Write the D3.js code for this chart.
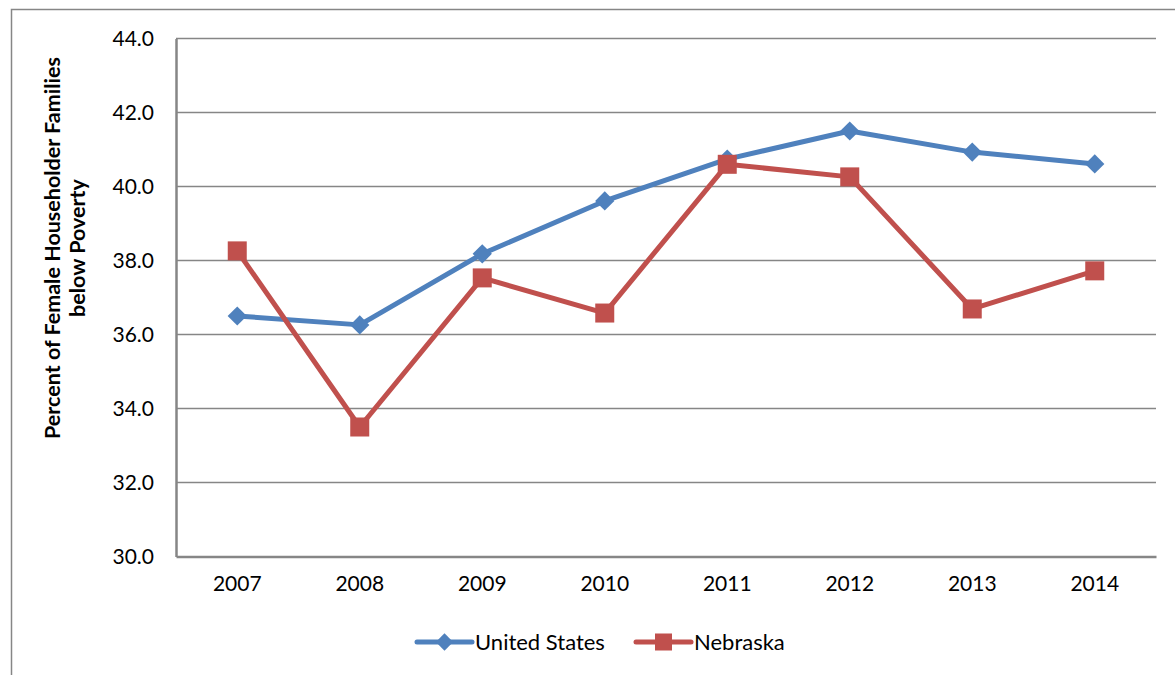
<!DOCTYPE html>
<html><head><meta charset="utf-8">
<script src="https://cdn.jsdelivr.net/npm/d3@7"></script>
<style>body{margin:0;background:#fff}svg{display:block}text{font-family:Lato,"Open Sans",sans-serif;fill:#000}</style>
</head><body><svg id="c" width="1175" height="675"></svg>
<script>
const years = ["2007","2008","2009","2010","2011","2012","2013","2014"];
const usValues = [36.5, 36.26, 38.18, 39.61, 40.74, 41.5, 40.93, 40.61];
const neValues = [38.26, 33.5, 37.53, 36.58, 40.6, 40.26, 36.69, 37.72];
const yTicks = [30, 32, 34, 36, 38, 40, 42, 44];
const seriesNames = ["United States", "Nebraska"];
const colors = ["#4F81BD", "#C0504D"];

const svg = d3.select("#c");
const L = 176, R = 1156, T = 38.5, B = 556.5;
svg.append("path").attr("d", "M11.5,675 V9.5 H1175").attr("fill","none").attr("stroke","#868686").attr("stroke-width",1.5);

const x = d3.scaleBand().domain(years).range([L, R]);
const y = d3.scaleLinear().domain([30, 44]).range([B, T]);

svg.append("g").selectAll("line").data(yTicks.filter(t=>t>30)).join("line")
  .attr("x1", L).attr("x2", R).attr("y1", d=>y(d)).attr("y2", d=>y(d))
  .attr("stroke", "#868686").attr("stroke-width", 1.5);

const yAxis = d3.axisLeft(y).tickValues(yTicks).tickFormat(d3.format(".1f")).tickSize(0).tickPadding(22);
const gy = svg.append("g").attr("transform", `translate(${L},0)`).call(yAxis);
gy.select(".domain").attr("stroke","#868686").attr("stroke-width",2.5);
gy.selectAll("text").attr("font-size", 21).attr("font-family","Lato,sans-serif").attr("dy","0.35em");

const xAxis = d3.axisBottom(x).tickSize(0).tickPadding(20);
const gx = svg.append("g").attr("transform", `translate(0,${B})`).call(xAxis);
gx.select(".domain").attr("stroke","#868686").attr("stroke-width",2.5);
gx.selectAll("text").attr("font-size", 21).attr("font-family","Lato,sans-serif");

const yl = svg.append("text").attr("transform","translate(60,248) rotate(-90)")
  .attr("text-anchor","middle").attr("font-size",21.5).attr("font-weight","bold");
yl.append("tspan").attr("x",0).attr("dy",0).text("Percent of Female Householder Families");
yl.append("tspan").attr("x",0).attr("dy",25).text("below Poverty");

const data = [usValues, neValues];
const line = d3.line().x((d,i)=>x(years[i]) + x.bandwidth()/2).y(d=>y(d));

data.forEach((vals, si) => {
  svg.append("path").datum(vals).attr("d", line).attr("fill","none")
    .attr("stroke", colors[si]).attr("stroke-width", 5).attr("stroke-linejoin","round");
  const g = svg.append("g");
  vals.forEach((v,i)=>{
    const cx = x(years[i]) + x.bandwidth()/2, cy = y(v);
    if (si === 0) {
      g.append("path").attr("d", d3.symbol().type(d3.symbolSquare).size(185)())
        .attr("transform", `translate(${cx},${cy}) rotate(45)`).attr("fill", colors[0]);
    } else {
      g.append("rect").attr("x", cx-9.5).attr("y", cy-9.5).attr("width",19).attr("height",19).attr("fill", colors[1]);
    }
  });
});

const leg = [{x0:417, name:seriesNames[0], c:colors[0], s:0},{x0:636, name:seriesNames[1], c:colors[1], s:1}];
leg.forEach(l=>{
  const ly = 642;
  svg.append("line").attr("x1", l.x0).attr("x2", l.x0+55).attr("y1", ly).attr("y2", ly)
    .attr("stroke", l.c).attr("stroke-width", 5).attr("stroke-linecap","round");
  const cx = l.x0 + 27.5;
  if (l.s===0) svg.append("path").attr("d", d3.symbol().type(d3.symbolSquare).size(150)())
    .attr("transform",`translate(${cx},${ly}) rotate(45)`).attr("fill", l.c);
  else svg.append("rect").attr("x", cx-8.5).attr("y", ly-8.5).attr("width",17).attr("height",17).attr("fill", l.c);
  svg.append("text").attr("x", l.x0+58).attr("y", ly).attr("dy","0.35em").attr("font-size",22).text(l.name);
});
</script></body></html>
